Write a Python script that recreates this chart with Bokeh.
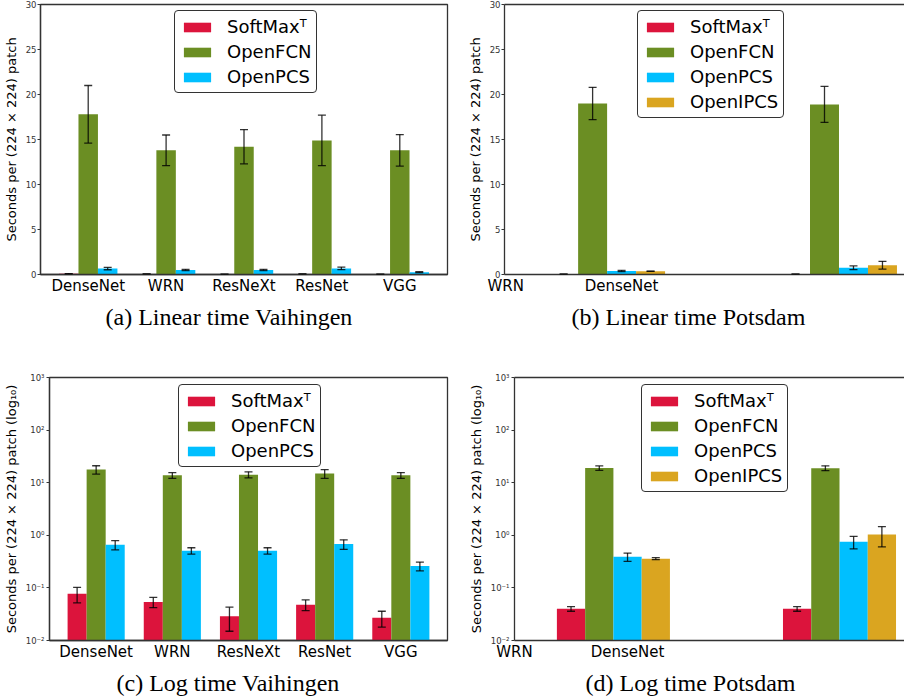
from bokeh.embed import file_html
from bokeh.layouts import column, row
from bokeh.models import (ColumnDataSource, CustomJSTickFormatter, FixedTicker, Legend,
                          LegendItem, LinearAxis, Range1d, TeeHead, Title, Whisker)
from bokeh.plotting import figure
from bokeh.resources import INLINE

# Methods and their bar colours
methods = ["SoftMaxᵀ", "OpenFCN", "OpenPCS", "OpenIPCS"]
colors = ["crimson", "olivedrab", "deepskyblue", "goldenrod"]

# Vaihingen: seconds per (224 x 224) patch, mean and standard deviation
vaihingen_nets = ["DenseNet", "WRN", "ResNeXt", "ResNet", "VGG"]
vaihingen_softmax = [0.077, 0.054, 0.029, 0.048, 0.027]
vaihingen_softmax_std = [0.025, 0.012, 0.014, 0.011, 0.009]
vaihingen_openfcn = [17.8, 13.8, 14.2, 14.9, 13.8]
vaihingen_openfcn_std = [3.2, 1.7, 1.9, 2.8, 1.75]
vaihingen_openpcs = [0.66, 0.51, 0.51, 0.68, 0.26]
vaihingen_openpcs_std = [0.13, 0.07, 0.07, 0.14, 0.05]

# Potsdam: two groups of four methods; only two tick labels are set on the axis
potsdam_tick_labels = ["WRN", "DenseNet"]
potsdam_group_pos = [1, 3]
potsdam_softmax = [0.040, 0.040]
potsdam_softmax_std = [0.004, 0.004]
potsdam_openfcn = [19.0, 18.9]
potsdam_openfcn_std = [1.8, 2.0]
potsdam_openpcs = [0.39, 0.75]
potsdam_openpcs_std = [0.07, 0.20]
potsdam_openipcs = [0.36, 1.03]
potsdam_openipcs_std = [0.015, 0.43]

SANS = "DejaVu Sans"
SERIF = "Liberation Serif"
SPINE = "#333333"
BAR_W = 0.25

LOG_LABEL_JS = """
const sup = {"-": "\u207b", "0": "\u2070", "1": "\u00b9", "2": "\u00b2", "3": "\u00b3",
             "4": "\u2074", "5": "\u2075", "6": "\u2076", "7": "\u2077", "8": "\u2078", "9": "\u2079"};
const e = Math.round(Math.log10(tick));
return "10" + String(e).split("").map(c => sup[c]).join("");
"""


def make_panel(width, height, border, x_range, log, group_x, means, stds,
               tick_pos, tick_labels, legend_xy, caption, caption_offset, right_spine):
    y_lo, y_hi = (0.01, 1000) if log else (0, 30)
    p = figure(width=width, height=height, output_backend="svg", toolbar_location=None,
               x_range=Range1d(*x_range), y_range=Range1d(y_lo, y_hi),
               y_axis_type="log" if log else "linear",
               min_border_left=border[0], min_border_right=border[1],
               min_border_top=border[2], min_border_bottom=border[3],
               background_fill_color="white", border_fill_color="white")
    p.grid.visible = False

    n = len(means)
    # three bars centred on the tick; four bars with the third one on the tick
    first = -1 if n == 3 else -2
    offsets = [(first + i) * BAR_W for i in range(n)]

    items = []
    for i in range(n):
        xs = [g + offsets[i] for g in group_x]
        src = ColumnDataSource(dict(
            x=xs, top=means[i],
            upper=[m + s for m, s in zip(means[i], stds[i])],
            lower=[m - s for m, s in zip(means[i], stds[i])]))
        r = p.vbar(x="x", top="top", bottom=y_lo, width=BAR_W, source=src,
                   fill_color=colors[i], line_color=None)
        head = dict(size=8, line_color="black", line_alpha=0.8, line_width=1.3)
        w = Whisker(base="x", upper="upper", lower="lower", source=src, dimension="height",
                    line_color="black", line_alpha=0.8, line_width=1.3, level="overlay",
                    upper_head=TeeHead(**head), lower_head=TeeHead(**head))
        p.add_layout(w)
        items.append(LegendItem(label=methods[i], renderers=[r]))

    # x axis: category names at fixed positions
    xa = p.xaxis[0]
    xa.ticker = FixedTicker(ticks=tick_pos)
    xa.major_label_overrides = {t: lab for t, lab in zip(tick_pos, tick_labels)}
    xa.major_tick_line_color = None
    xa.major_tick_out = 0
    xa.major_tick_in = 0
    xa.minor_tick_line_color = None
    xa.minor_tick_out = 0
    xa.major_label_standoff = 2
    xa.major_label_text_font = SANS
    xa.major_label_text_font_size = "15px"
    xa.major_label_text_color = "black"
    xa.axis_line_color = SPINE
    xa.axis_line_width = 1.3

    ya = p.yaxis[0]
    if log:
        ya.ticker = FixedTicker(ticks=[0.01, 0.1, 1, 10, 100, 1000])
        ya.formatter = CustomJSTickFormatter(code=LOG_LABEL_JS)
        ya.axis_label = "Seconds per (224 × 224) patch (log₁₀)"
        ya.major_label_standoff = 2
    else:
        ya.ticker = FixedTicker(ticks=[0, 5, 10, 15, 20, 25, 30])
        ya.axis_label = "Seconds per (224 × 224) patch"
        ya.major_label_standoff = 1
    ya.minor_tick_line_color = None
    ya.major_tick_out = 3
    ya.major_tick_in = 0
    ya.major_tick_line_color = SPINE
    ya.major_label_text_font = SANS
    ya.major_label_text_font_size = "8.5px"
    ya.major_label_text_color = "#333333"
    ya.axis_label_text_font = SANS
    ya.axis_label_text_font_size = "13px"
    ya.axis_label_text_font_style = "normal"
    ya.axis_label_text_color = "black"
    ya.axis_label_standoff = 4
    ya.axis_line_color = SPINE
    ya.axis_line_width = 1.3

    if right_spine:
        p.outline_line_color = SPINE
        p.outline_line_width = 1.3
        p.outline_line_alpha = 1
    else:
        p.outline_line_color = None
        top = LinearAxis(ticker=FixedTicker(ticks=[]), major_tick_line_color=None,
                         minor_tick_line_color=None, major_label_text_font_size="0px",
                         major_tick_out=0, minor_tick_out=0,
                         major_label_standoff=0, axis_line_color=SPINE, axis_line_width=1.3)
        p.add_layout(top, "above")

    legend = Legend(items=items, location=legend_xy, glyph_width=34, glyph_height=12,
                    label_standoff=13, spacing=4, padding=5, margin=0, label_height=20,
                    label_text_font=SANS, label_text_font_size="18px",
                    label_text_color="black",
                    border_line_color=SPINE, border_line_width=1.5, border_line_alpha=1,
                    background_fill_color="white", background_fill_alpha=1)
    if "border_radius" in Legend.properties():
        legend.border_radius = 4
    p.add_layout(legend)

    p.add_layout(Title(text=caption, align="left", offset=caption_offset, standoff=9,
                       text_font=SERIF, text_font_size="24px", text_font_style="normal",
                       text_color="black"), "below")
    return p


vai_means = [vaihingen_softmax, vaihingen_openfcn, vaihingen_openpcs]
vai_stds = [vaihingen_softmax_std, vaihingen_openfcn_std, vaihingen_openpcs_std]
vai_pos = list(range(len(vaihingen_nets)))
pots_means = [potsdam_softmax, potsdam_openfcn, potsdam_openpcs, potsdam_openipcs]
pots_stds = [potsdam_softmax_std, potsdam_openfcn_std, potsdam_openpcs_std, potsdam_openipcs_std]
pots_ticks = list(range(len(potsdam_tick_labels)))

pa = make_panel(450, 340, (38, 3, 4, 66), (-0.6125, 4.6125), False, vai_pos, vai_means, vai_stds,
                vai_pos, vaihingen_nets, (134, 181), "(a) Linear time Vaihingen", 65, True)
pb = make_panel(454, 340, (54, 0, 4, 66), (-0.01, 3.44), False, potsdam_group_pos, pots_means,
                pots_stds, pots_ticks, potsdam_tick_labels, (133, 156),
                "(b) Linear time Potsdam", 67, False)
pc = make_panel(450, 360, (47, 3, 37, 60), (-0.6125, 4.6125), True, vai_pos, vai_means, vai_stds,
                vai_pos, vaihingen_nets, (129, 173), "(c) Log time Vaihingen", 67, True)
pd = make_panel(454, 360, (64, 0, 37, 60), (0.0, 3.45), True, potsdam_group_pos, pots_means,
                pots_stds, pots_ticks, potsdam_tick_labels, (127, 148),
                "(d) Log time Potsdam", 71, False)

layout = column(row(pa, pb), row(pc, pd))
open("out.html", "w").write(file_html(layout, INLINE))
